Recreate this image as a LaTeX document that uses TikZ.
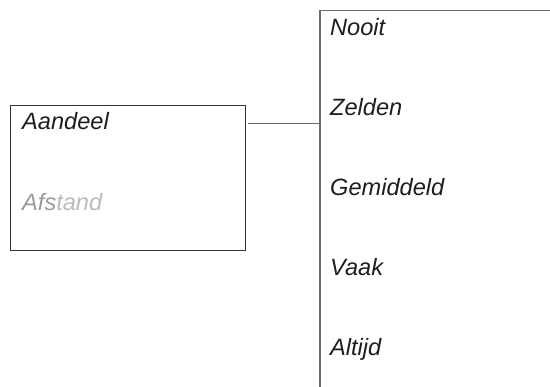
\documentclass[tikz,border=0pt]{standalone}
\usepackage{fontspec}
\setsansfont{Liberation Sans}
\usepackage{xcolor}
\usepackage{tikz}
\usetikzlibrary{positioning}
\definecolor{ink}{HTML}{1E1E1E}
\definecolor{edgel}{HTML}{333333}
\definecolor{edger}{HTML}{6A6A6A}
\definecolor{dimA}{HTML}{9A9A9A}
\definecolor{dimB}{HTML}{BBBBBB}

\begin{document}
\begin{tikzpicture}[
  x=1pt, y=-1pt,
  font=\sffamily\itshape\fontsize{23.6}{26}\selectfont,
  lbox/.style={rectangle, draw=edgel, line width=1.2pt, fill=white, anchor=north west,
               minimum width=235pt, minimum height=145pt, inner sep=0pt},
  rbox/.style={rectangle, draw=edger, line width=1.5pt, fill=white, anchor=north west,
               minimum width=280pt, minimum height=420pt, inner sep=0pt},
  lbl/.style={anchor=base west, inner sep=0pt, text=ink},
  ln/.style={draw=edger, line width=1pt}
]
\useasboundingbox (0,0) rectangle (550,387);
\clip (0,0) rectangle (550,387);
\node[lbox] (share) at (10,105) {};
\node[rbox] (scale) at (319,10) {};
\node[lbl] (aandeel) at (22,130) {Aandeel};
\node[lbl] (afstand) at (22,211) {\textcolor{dimA}{Afs}\textcolor{dimB}{tand}};
\foreach \t [count=\i from 0] in {Nooit,Zelden,Gemiddeld,Vaak,Altijd}
  \node[lbl] (opt\i) at (330,36+80*\i) {\t};
\coordinate (join) at (319,124);
\draw[ln] ([xshift=2pt]share.east |- join) -- (join);
\end{tikzpicture}
\end{document}
